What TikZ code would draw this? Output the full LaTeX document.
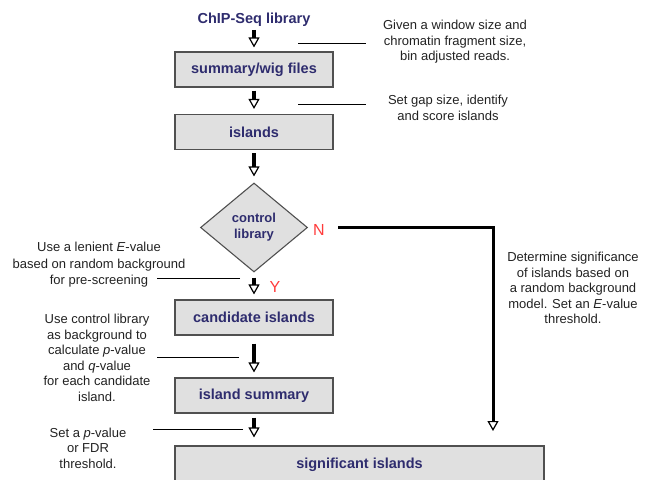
\documentclass[tikz,border=0pt]{standalone}
\usepackage{fontspec}
\setmainfont{Liberation Sans}
\usetikzlibrary{shapes.geometric,arrows.meta}

\definecolor{boxfill}{HTML}{E0E0E0}
\definecolor{boxline}{HTML}{505050}
\definecolor{stepblue}{HTML}{2E2C6E}
\definecolor{notegray}{HTML}{222222}
\definecolor{yesno}{HTML}{FF3B3B}

\begin{document}
\begin{tikzpicture}[x=1pt, y=-1pt]
        \tikzstyle{source}=[inner sep=0pt, font=\fontsize{14.5}{16}\selectfont\bfseries, text=stepblue]
        \tikzstyle{stage}=[draw=boxline, line width=1.1pt, fill=boxfill, minimum width=158pt, minimum height=35pt, inner sep=0pt, font=\fontsize{14.5}{16}\selectfont\bfseries, text=stepblue]
        \tikzstyle{decision}=[diamond, draw=boxline, line width=1.1pt, fill=boxfill, minimum width=107pt, minimum height=89pt, inner sep=0pt, align=center, font=\fontsize{13}{16}\selectfont\bfseries, text=stepblue]
        \tikzstyle{note}=[align=center, inner sep=0pt, font=\fontsize{13}{15.5}\selectfont, text=notegray]
        \tikzstyle{answer}=[inner sep=0pt, font=\fontsize{16}{16}\selectfont, text=yesno]
        \tikzstyle{flow}=[line width=3.2pt, -{Triangle[open, width=11pt, length=10pt, line width'=1.2pt]}]
        \tikzstyle{pointer}=[line width=0.9pt]

        \useasboundingbox (0,0) rectangle (650,479);
        \clip (0,0) rectangle (650,479);

        % pipeline
        \node[source] (lib) at (254,20) {ChIP-Seq library};
        \node[stage] (wig) at (254,69.5) {summary/wig files};
        \node[stage] (isl) at (254,132) {islands};
        \node[decision] (ctrl) at (254,227.5) {control\\library};
        \node[stage] (cand) at (254,317.5) {candidate islands};
        \node[stage] (summ) at (254,395.5) {island summary};
        \node[stage, minimum width=369pt, minimum height=38pt] (sig) at (359.5,465) {\raisebox{2pt}{significant islands}};

        \node[answer] (no) at (319,230) {N};
        \node[answer] (yes) at (275,287) {Y};
        \coordinate (nend) at (493,431);

        \draw[flow, shorten <=3pt, shorten >=4pt] (lib) -- (wig);
        \draw[flow, shorten <=3pt, shorten >=5pt] (wig) -- (isl);
        \draw[flow, shorten <=3pt, shorten >=6pt] (isl) -- (ctrl);
        \draw[flow, shorten <=5pt, shorten >=5pt] (ctrl) -- (cand);
        \draw[flow, shorten <=8pt, shorten >=5pt] (cand) -- (summ);
        \draw[flow, shorten <=4pt, shorten >=8pt] (summ) -- (summ |- sig.north);
        \draw[flow, line width=3pt, shorten <=30pt] (ctrl.east) -| (nend);

        % notes
        \node[note] (note1) at (455,42) {Given a window size and\\chromatin fragment size,\\bin adjusted reads.};
        \node[note] (note2) at (448,108) {Set gap size, identify\\and score islands};
        \node[note, font=\fontsize{13}{16.5}\selectfont] (note3) at (99,265) {Use a lenient \textit{E}-value\\based on random background\\for pre-screening};
        \node[note] (note4) at (97,358) {Use control library\\as background to\\calculate \textit{p}-value\\and \textit{q}-value\\for each candidate\\island.};
        \node[note] (note5) at (88,448) {Set a \textit{p}-value\\or FDR\\threshold.};
        \node[note] (note6) at (573,288) {Determine significance\\of islands based on\\a random background\\model. Set an \textit{E}-value\\threshold.};

        \coordinate (t1) at (298,43);
        \coordinate (t2) at (298,104);
        \coordinate (t3) at (240,278);
        \coordinate (t4) at (239,357);
        \coordinate (t5) at (243,429);
        \draw[pointer] (t1) -- ++(68,0);
        \draw[pointer] (t2) -- ++(68,0);
        \draw[pointer] (t3) -- ++(-83,0);
        \draw[pointer] (t4) -- ++(-82,0);
        \draw[pointer] (t5) -- ++(-90,0);
\end{tikzpicture}
\end{document}
